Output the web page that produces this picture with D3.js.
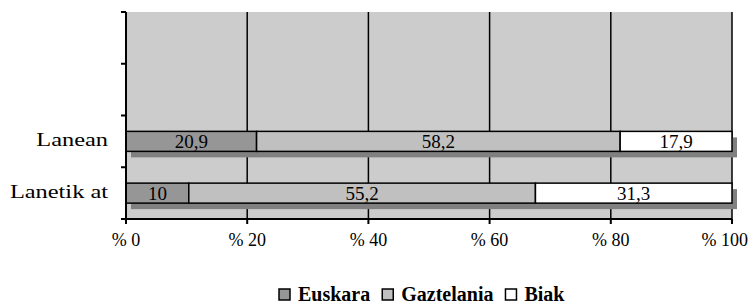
<!DOCTYPE html>
<html lang="en">
<head>
  <meta charset="UTF-8">
  <title>Lanean / Lanetik at</title>
  <script src="https://d3js.org/d3.v7.min.js"></script>
  <style>
    body { margin: 0; background: white; }
    svg text { font-family: "Liberation Serif", "Times New Roman", serif; }
  </style>
</head>
<body>
<svg id="chart" width="753" height="306"></svg>

<script>
  // Chart values
  const categories = ["Lanean", "Lanetik at"];
  const seriesNames = ["Euskara", "Gaztelania", "Biak"];
  const euskara = [20.9, 10];
  const gaztelania = [58.2, 55.2];
  const biak = [17.9, 31.3];
  const xTicks = [0, 20, 40, 60, 80, 100];
  const xTickLabels = ["% 0", "% 20", "% 40", "% 60", "% 80", "% 100"];

  const colors = {Euskara: "#969696", Gaztelania: "#c0c0c0", Biak: "#ffffff"};

  // build rows for the stack
  const rows = categories.map((c, i) => ({
    cat: c, Euskara: euskara[i], Gaztelania: gaztelania[i], Biak: biak[i]
  }));

  const stacked = d3.stack()
    .keys(seriesNames)
    .offset(d3.stackOffsetExpand)(rows);

  const svg = d3.select("#chart");

  // plot area edges
  const pl = 126, pr = 732, pt = 12, pb = 219;

  const x = d3.scaleLinear().domain([0, 100]).range([pl, pr]);
  // two empty slots above the real categories, like the original
  const y = d3.scaleBand()
    .domain(["_a", "_b"].concat(categories))
    .range([pt, pb]);

  const barH = 20;
  const barY = d => y(d) + (y.bandwidth() - barH) / 2;

  // plot background
  svg.append("rect")
    .attr("x", pl).attr("y", pt)
    .attr("width", pr - pl).attr("height", pb - pt)
    .attr("fill", "#cccccc");

  // vertical grid lines
  svg.append("g")
    .selectAll("line")
    .data(xTicks.slice(1))
    .enter().append("line")
    .attr("x1", d => x(d)).attr("x2", d => x(d))
    .attr("y1", pt).attr("y2", pb)
    .attr("stroke", "black").attr("stroke-width", 1.5);

  // drop shadows behind each bar
  svg.append("g")
    .selectAll("rect")
    .data(categories)
    .enter().append("rect")
    .attr("x", x(0) + 5)
    .attr("y", d => barY(d) + 6)
    .attr("width", x(100) - x(0))
    .attr("height", barH)
    .attr("fill", "#808080");

  // bar segments
  const layers = svg.append("g")
    .selectAll("g")
    .data(stacked)
    .enter().append("g")
    .attr("fill", d => colors[d.key]);

  layers.selectAll("rect")
    .data(d => d)
    .enter().append("rect")
    .attr("x", d => x(d[0] * 100))
    .attr("y", d => barY(d.data.cat))
    .attr("width", d => x(d[1] * 100) - x(d[0] * 100))
    .attr("height", barH)
    .attr("stroke", "black")
    .attr("stroke-width", 1.5);

  // value labels
  layers.selectAll("text")
    .data(d => d.map(p => ({p: p, key: d.key})))
    .enter().append("text")
    .attr("x", d => (x(d.p[0] * 100) + x(d.p[1] * 100)) / 2)
    .attr("y", d => barY(d.p.data.cat) + barH / 2 + 6.5)
    .attr("text-anchor", "middle")
    .attr("font-size", 19)
    .attr("fill", "black")
    .text(d => String(d.p.data[d.key]).replace(".", ","));

  // category labels (the original text is a bit stretched sideways)
  svg.append("g")
    .selectAll("text")
    .data(categories)
    .enter().append("text")
    .attr("transform", d => `translate(108,${barY(d) + barH / 2 + 5}) scale(1.25,1)`)
    .attr("text-anchor", "end")
    .attr("font-size", 19.5)
    .text(d => d);

  // y axis
  const yAxis = svg.append("g");
  yAxis.append("line")
    .attr("x1", pl).attr("x2", pl)
    .attr("y1", pt).attr("y2", pb + 1)
    .attr("stroke", "black").attr("stroke-width", 2);
  yAxis.selectAll(".yt")
    .data(y.domain().map(d => y(d)).concat([pb]))
    .enter().append("line")
    .attr("x1", pl - 5).attr("x2", pl)
    .attr("y1", d => d).attr("y2", d => d)
    .attr("stroke", "black").attr("stroke-width", 2);

  // x axis
  const xAxis = svg.append("g");
  xAxis.append("line")
    .attr("x1", pl - 5).attr("x2", pr)
    .attr("y1", pb).attr("y2", pb)
    .attr("stroke", "black").attr("stroke-width", 2);
  xAxis.selectAll(".xt")
    .data(xTicks)
    .enter().append("line")
    .attr("x1", d => x(d)).attr("x2", d => x(d))
    .attr("y1", pb).attr("y2", pb + 5)
    .attr("stroke", "black").attr("stroke-width", 2);
  xAxis.selectAll("text")
    .data(xTicks)
    .enter().append("text")
    .attr("x", d => d === 100 ? 748 : x(d))
    .attr("y", pb + 27)
    .attr("text-anchor", d => d === 100 ? "end" : "middle")
    .attr("font-size", 18)
    .text((d, i) => xTickLabels[i]);

  // legend
  const legend = svg.append("g");
  let lx = 279;
  seriesNames.forEach(name => {
    legend.append("rect")
      .attr("x", lx).attr("y", 289)
      .attr("width", 11).attr("height", 11)
      .attr("fill", colors[name])
      .attr("stroke", "black").attr("stroke-width", 1.5);
    const t = legend.append("text")
      .attr("x", lx + 19).attr("y", 300.5)
      .attr("font-size", 20).attr("font-weight", "bold")
      .text(name);
    lx += 19 + t.node().getComputedTextLength() + 12;
  });
</script>
</body>
</html>
